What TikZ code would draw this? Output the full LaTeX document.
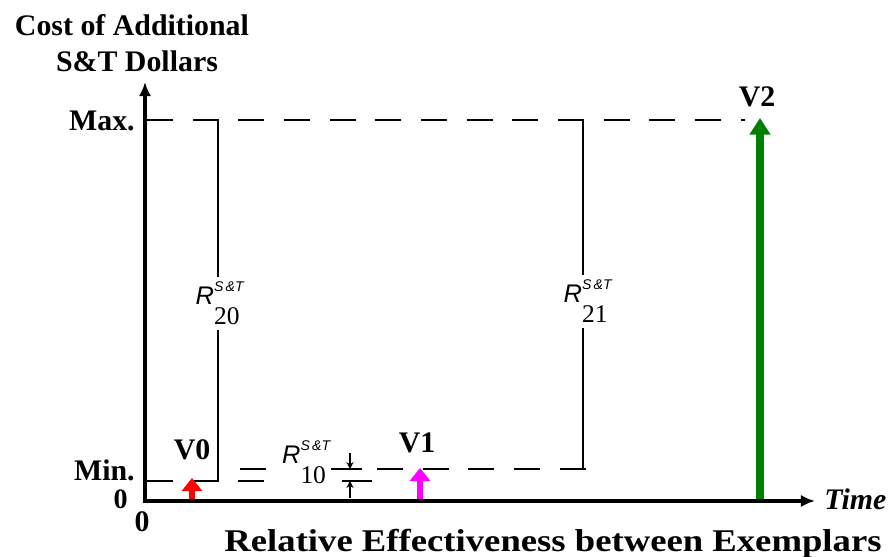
\documentclass[tikz,border=0pt]{standalone}
\usepackage{fontspec}
\setmainfont{Liberation Serif}
\newfontfamily\labfont{Liberation Sans}
\usetikzlibrary{arrows.meta,positioning,calc}
\definecolor{vRed}{HTML}{FF0000}
\definecolor{vPink}{HTML}{FF00FF}
\definecolor{vGreen}{HTML}{008000}
\newcommand{\rlab}[1]{{\labfont\itshape R}\rlap{\raisebox{7.5pt}{\labfont\itshape\fontsize{8}{8}\selectfont S\,\&T}}\raisebox{-11pt}{#1}}

\begin{document}
\begin{tikzpicture}[x=0.02cm,y=0.02cm,>=Latex,
  axis/.style={line width=2.3pt,line join=miter},
  guide/.style={line width=0.7pt,dash pattern=on 14.7pt off 11.3pt},
  bar/.style={line width=0.7pt},
  lbl/.style={font=\fontsize{17}{20}\selectfont\bfseries,inner sep=0pt},
  rnode/.style={fill=white,inner sep=3pt,font=\fontsize{14.5}{16}\selectfont},
  vec/.style={line width=3.5pt,-{Triangle[width=11.5pt,length=7.5pt]}}]
\useasboundingbox (0,0) rectangle (893,557);
% axes corners and levels
\coordinate (ytop) at (145,475);
\coordinate (xend) at (815,56);
\coordinate (maxL) at (147,437);
\coordinate (maxR) at (745,437);
\coordinate (minL) at (147,76);
\coordinate (minR) at (300,76);
\coordinate (v1L) at (240,88);
\coordinate (v1R) at (600,88);
\draw[guide] (maxL) -- (maxR);
\draw[guide] (minL) -- (minR);
\draw[guide] (v1L) -- (v1R);
% ranges
\coordinate (r20top) at (218,437);
\coordinate (r20bot) at (218,76);
\coordinate (r21top) at (583,437);
\coordinate (r21bot) at (583,88);
\draw[bar] (r20top) -- (r20bot);
\draw[bar] (r21top) -- (r21bot);
\node[rnode,anchor=base west] (r20) at (190,252) {\rlab{20}};
\node[rnode,anchor=base west] (r21) at (558,254) {\rlab{21}};
\node[rnode,anchor=base west,inner sep=1pt] (r10) at (280,93) {\rlab{10}};
% gap between Min. and V1
\coordinate (b1L) at (333,88);
\coordinate (b1R) at (362,88);
\coordinate (b2L) at (342,76);
\coordinate (b2R) at (372,76);
\draw[bar] (b1L) -- (b1R);
\draw[bar] (b2L) -- (b2R);
\coordinate (dtop) at (350,104);
\coordinate (dv1) at (350,88);
\coordinate (dbot) at (350,59);
\coordinate (dmin) at (350,76);
\draw[bar,-{Stealth[length=4pt,width=4pt]}] (dtop) -- (dv1);
\draw[bar,-{Stealth[length=4pt,width=4pt]}] (dbot) -- (dmin);
% exemplars
\coordinate (v0s) at (192,58);
\coordinate (v0e) at (192,79);
\coordinate (v1s) at (420,58);
\coordinate (v1e) at (420,89);
\coordinate (v2s) at (760,58);
\coordinate (v2e) at (760,439);
\draw[vec,vRed] (v0s) -- (v0e);
\draw[vec,vPink] (v1s) -- (v1e);
\draw[vec,vGreen,line width=4pt,-{Triangle[width=11.5pt,length=9.5pt]}] (v2s) -- (v2e);
\node[lbl,anchor=base] (v0) at (192,97) {V0};
\node[lbl,anchor=base] (v1) at (417,104) {V1};
\node[lbl,anchor=base] (v2) at (757,450) {V2};
% axes
\draw[axis,{Latex[length=8pt,width=7pt]}-{Latex[length=8pt,width=7pt]}] (ytop) |- (xend);
\node[lbl,anchor=base east] (max) at (135,426) {Max.};
\node[lbl,anchor=base east] (min) at (135,76) {Min.};
\node[lbl,anchor=base east,font=\fontsize{16}{18}\selectfont\bfseries] (zeroy) at (128,48) {0};
\node[lbl,anchor=base] (zerox) at (142,25) {0};
\node[lbl,anchor=base west,font=\fontsize{17}{20}\selectfont\bfseries\itshape] (time) at (824,47) {Time};
\node[lbl,anchor=base] (ttl1) at (132,521) {Cost of Additional};
\node[lbl,anchor=base] (ttl2) at (137,485) {S\&T Dollars};
\node[lbl,anchor=base,font=\fontsize{18}{20}\selectfont\bfseries] (xlab) at (553,5) {\scalebox{1.16}[1]{Relative Effectiveness between Exemplars}};
\end{tikzpicture}
\end{document}
